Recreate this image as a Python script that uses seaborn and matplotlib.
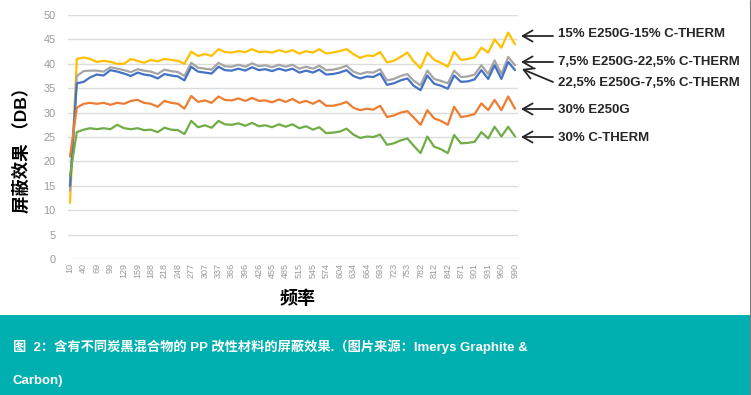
import numpy as np
import pandas as pd
import matplotlib
matplotlib.use("Agg")
import matplotlib.pyplot as plt
import seaborn as sns
from matplotlib import font_manager

# frequency points (x), tick labels every other point
freq = [10, 25, 40, 54, 69, 84, 99, 114, 129, 144, 159, 173, 188, 203, 218, 233,
        248, 262, 277, 292, 307, 322, 337, 351, 366, 381, 396, 411, 426, 440, 455,
        470, 485, 500, 515, 530, 545, 559, 574, 589, 604, 619, 634, 649, 664, 678,
        693, 708, 723, 738, 753, 767, 782, 797, 812, 827, 842, 856, 871, 886, 901,
        916, 931, 945, 960, 975, 990]
tick_labels = [10, 40, 69, 99, 129, 159, 188, 218, 248, 277, 307, 337, 366, 396,
               426, 455, 485, 515, 545, 574, 604, 634, 664, 693, 723, 753, 782,
               812, 842, 871, 901, 931, 960, 990]

s_15_15 = [11.5, 41.0, 41.3, 41.0, 40.4, 40.6, 40.4, 40.0, 40.0, 41.0, 40.6, 40.2,
           40.8, 40.5, 41.0, 40.8, 40.6, 40.0, 42.5, 41.6, 42.0, 41.6, 43.0, 42.4,
           42.3, 42.6, 42.4, 43.0, 42.4, 42.5, 42.3, 42.8, 42.4, 42.8, 42.1, 42.6,
           42.3, 43.0, 42.1, 42.3, 42.6, 43.0, 42.0, 41.2, 41.7, 41.6, 42.4, 40.3,
           40.6, 41.4, 42.3, 40.5, 39.1, 42.3, 40.8, 40.2, 39.4, 42.5, 40.8, 41.0,
           41.3, 43.3, 42.3, 45.0, 43.3, 46.4, 44.0]
s_75_225 = [14.0, 37.5, 38.5, 38.6, 38.6, 38.4, 39.3, 39.0, 38.7, 38.3, 38.9, 38.6,
            38.4, 37.9, 38.8, 38.5, 38.3, 37.5, 40.2, 39.2, 39.0, 38.8, 40.2, 39.5,
            39.4, 39.8, 39.4, 40.1, 39.5, 39.7, 39.3, 39.8, 39.4, 39.8, 39.0, 39.4,
            39.0, 39.6, 38.7, 38.8, 39.1, 39.6, 38.4, 37.9, 38.3, 38.2, 38.9, 36.6,
            36.9, 37.5, 37.9, 36.5, 35.6, 38.6, 36.9, 36.5, 36.0, 38.6, 37.3, 37.4,
            37.8, 39.7, 37.9, 40.7, 37.9, 41.4, 39.7]
s_225_75 = [15.0, 36.0, 36.3, 37.2, 37.8, 37.6, 38.7, 38.4, 38.0, 37.5, 38.2, 37.8,
            37.6, 37.0, 37.9, 37.6, 37.4, 36.6, 39.4, 38.4, 38.2, 38.0, 39.4, 38.7,
            38.6, 39.0, 38.6, 39.3, 38.7, 38.9, 38.5, 39.0, 38.6, 39.0, 38.2, 38.6,
            38.2, 38.8, 37.8, 37.9, 38.2, 38.7, 37.5, 37.0, 37.4, 37.3, 38.0, 35.7,
            36.0, 36.6, 37.0, 35.5, 34.6, 37.6, 35.9, 35.5, 34.9, 37.6, 36.3, 36.4,
            36.8, 38.7, 36.9, 39.7, 36.9, 40.4, 38.7]
s_e250g = [21.0, 31.0, 31.8, 32.0, 31.8, 32.0, 31.6, 32.0, 31.8, 32.4, 32.6, 32.0,
           31.8, 31.2, 32.4, 32.0, 31.8, 30.8, 33.4, 32.2, 32.5, 32.0, 33.3, 32.6,
           32.5, 32.9, 32.4, 33.0, 32.4, 32.5, 32.1, 32.7, 32.2, 32.8, 32.0, 32.4,
           31.8, 32.5, 31.4, 31.4, 31.7, 32.2, 31.0, 30.5, 30.8, 30.6, 31.4, 29.1,
           29.4, 30.0, 30.3, 29.0, 27.5, 30.5, 28.8, 28.3, 27.5, 31.2, 29.1, 29.3,
           29.7, 31.9, 30.5, 32.6, 30.5, 33.3, 30.8]
s_ctherm = [17.0, 26.0, 26.5, 26.8, 26.6, 26.8, 26.6, 27.5, 26.8, 26.6, 26.8, 26.4,
            26.5, 26.0, 26.9, 26.5, 26.4, 25.6, 28.3, 27.0, 27.4, 26.9, 28.3, 27.6,
            27.5, 27.8, 27.3, 27.9, 27.2, 27.4, 27.0, 27.6, 27.1, 27.6, 26.8, 27.2,
            26.5, 27.0, 25.8, 25.9, 26.1, 26.7, 25.5, 24.8, 25.1, 25.0, 25.5, 23.4,
            23.7, 24.3, 24.7, 23.2, 21.7, 25.1, 23.0, 22.5, 21.7, 25.4, 23.7, 23.8,
            24.0, 26.0, 24.7, 27.1, 25.1, 27.1, 25.1]

series_names = ["15% E250G-15% C-THERM", "7,5% E250G-22,5% C-THERM",
                "22,5% E250G-7,5% C-THERM", "30% E250G", "30% C-THERM"]
series_vals = [s_15_15, s_75_225, s_225_75, s_e250g, s_ctherm]
colors = ["#FFC000", "#A5A5A5", "#4472C4", "#ED7D31", "#70AD47"]

df = pd.concat([pd.DataFrame({"freq": freq, "val": v, "series": n})
                for n, v in zip(series_names, series_vals)])

sns.set_style("white")
plt.rcParams["font.family"] = ["Liberation Sans", "Noto Sans CJK SC"]

installed = {f.name for f in font_manager.fontManager.ttflist}
narrow = "Liberation Sans Narrow" if "Liberation Sans Narrow" in installed else "Liberation Sans"

fig = plt.figure(figsize=(7.51, 3.95), dpi=100)
ax = fig.add_axes([68 / 751, 1 - 259 / 395, 450 / 751, 244 / 395])

sns.lineplot(data=df, x="freq", y="val", hue="series", hue_order=series_names,
             palette=dict(zip(series_names, colors)), linewidth=1.6,
             legend=False, ax=ax)

ax.set_ylim(0, 50)
ax.set_xlim(5.6, 996.6)
ax.set_yticks(range(0, 51, 5))
ax.set_xticks(tick_labels)
ax.set_xticklabels([str(t) for t in tick_labels], rotation=90)
ax.tick_params(axis="x", labelsize=6.5, colors="#9a9a9a", pad=3, length=0)
ax.tick_params(axis="y", labelsize=7.8, colors="#9a9a9a", pad=9, length=0)
ax.grid(axis="y", color="#dcdcdc", linewidth=1)
ax.grid(axis="x", visible=False)
for sp in ax.spines.values():
    sp.set_visible(False)
ax.set_xlabel("")
ax.set_ylabel("")

# axis titles
fig.text(21 / 751, 1 - 146 / 395, "屏蔽效果 （DB）", rotation=90, ha="center",
         va="center", fontsize=12.5, fontweight="bold", color="black",
         family=["Liberation Sans", "Noto Sans CJK SC"])
fig.text(298 / 751, 1 - 298 / 395, "频率", ha="center", va="center",
         fontsize=13, fontweight="bold", color="black",
         family=["Noto Sans CJK SC"])

# arrows + series labels on the right
label_y = [34, 62, 83, 110, 138]
arrow_pts = [((553, 36), (521, 36)), ((553, 62), (521, 62)),
             ((553, 82), (522, 69)), ((553, 109), (521, 109)),
             ((553, 137), (521, 137))]
for name, ly, (p0, p1) in zip(series_names, label_y, arrow_pts):
    fig.text(558 / 751, 1 - ly / 395, name, ha="left", va="center",
             fontsize=9.5, fontweight="bold", color="#262626")
    ax.annotate("", xy=(p1[0], 395 - p1[1]), xycoords="figure pixels",
                xytext=(p0[0], 395 - p0[1]), textcoords="figure pixels",
                arrowprops=dict(arrowstyle="->,head_length=0.7,head_width=0.4",
                                color="#262626", lw=1.3,
                                shrinkA=0, shrinkB=0),
                annotation_clip=False)

# caption band
band = fig.add_axes([0, 0, 1, 80 / 395])
band.set_facecolor("#00B0B0")
band.set_xticks([])
band.set_yticks([])
for sp in band.spines.values():
    sp.set_visible(False)
cap_family = [narrow, "Noto Sans CJK SC"]
band.text(13 / 751, 0.60, "图  2：含有不同炭黑混合物的 PP 改性材料的屏蔽效果.（图片来源：Imerys Graphite &",
          transform=band.transAxes, ha="left", va="center", fontsize=9.5,
          fontweight="bold", color="white", family=cap_family)
band.text(13 / 751, 0.17, "Carbon)", transform=band.transAxes, ha="left",
          va="center", fontsize=9.5, fontweight="bold", color="white",
          family=cap_family)

# thin frame line on the right edge of the screenshot
fig.add_artist(plt.Line2D([749.5 / 751, 749.5 / 751], [0, 1],
                          transform=fig.transFigure, color="#7a7a7a", lw=0.8))

fig.savefig("out.png", dpi=100, facecolor="white")
